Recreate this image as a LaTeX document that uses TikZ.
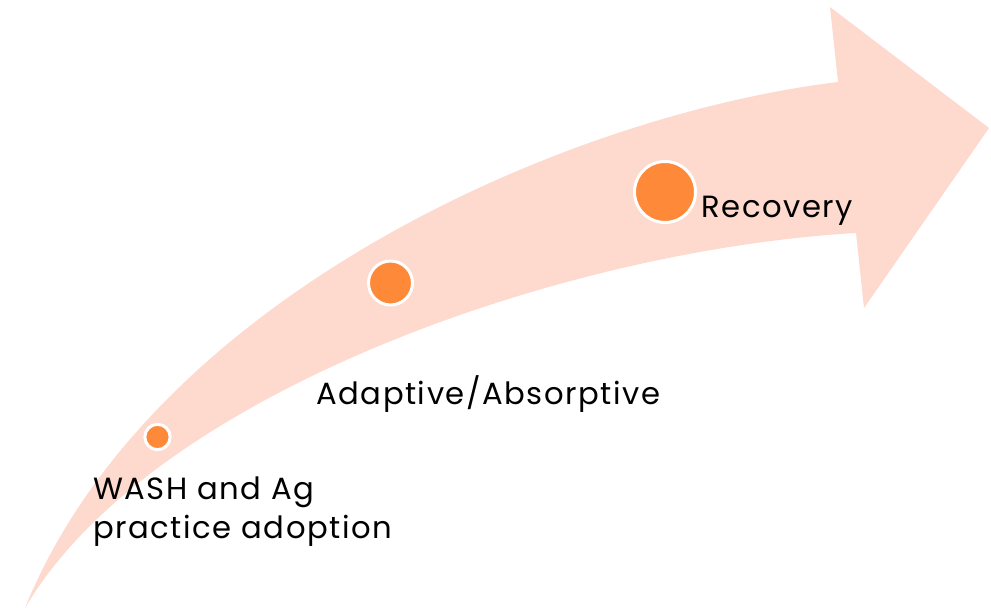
\documentclass[tikz,border=0pt]{standalone}
\usepackage{fontspec}
\setmainfont{Poppins}[LetterSpace=5]
\definecolor{arrowpeach}{RGB}{253,217,206}
\definecolor{dotorange}{RGB}{254,137,57}
\tikzset{
  stage/.style={circle,fill=dotorange,draw=white,line width=2.25pt,inner sep=0pt},
  stagetext/.style={anchor=base west,inner sep=0pt,font=\fontsize{23}{28.7}\selectfont}
}
\begin{document}
\begin{tikzpicture}[x=0.75pt,y=-0.75pt]
  \useasboundingbox (0,0) rectangle (991,609);
  \fill[arrowpeach] (25,608) .. controls (150,300) and (560,116) .. (838,82)
    -- (830,7) -- (989,128) -- (864,308) -- (856,233)
    .. controls (560,250) and (150,395) .. (25,608) -- cycle;
  \node[stage,minimum size=19pt] (adopt) at (157.5,437) {};
  \node[stage,minimum size=33pt] (absorb) at (390.5,283) {};
  \node[stage,minimum size=45.75pt] (recover) at (665,192) {};
  \node[stagetext] (recoverlbl) at (701,218) {Recovery};
  \node[stagetext] (absorblbl) at (316,404) {Adaptive/Absorptive};
  \node[stagetext,align=left] (adoptlbl) at (93,538) {WASH and Ag\\practice adoption};
\end{tikzpicture}
\end{document}
